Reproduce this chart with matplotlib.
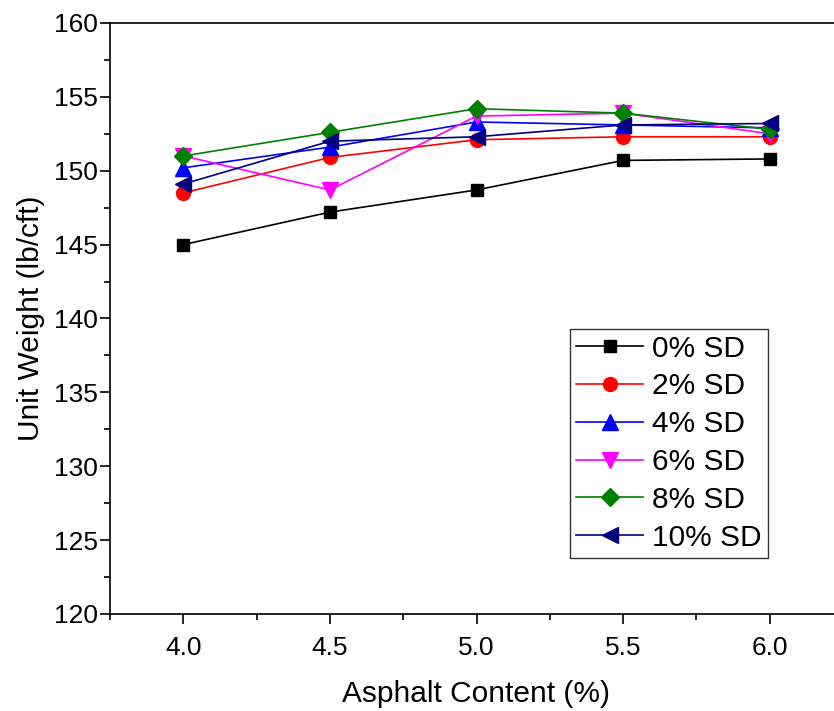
import matplotlib.pyplot as plt
from matplotlib.ticker import MultipleLocator

plt.rcParams["font.family"] = ["Liberation Sans", "DejaVu Sans"]

# ------------------------------------------------------------
# DATA
# ------------------------------------------------------------
asphalt = [4.0, 4.5, 5.0, 5.5, 6.0]

sd_0 = [145.0, 147.2, 148.7, 150.7, 150.8]
sd_2 = [148.5, 150.9, 152.1, 152.3, 152.3]
sd_4 = [150.2, 151.6, 153.3, 153.1, 152.9]
sd_6 = [151.0, 148.7, 153.7, 153.9, 152.5]
sd_8 = [151.0, 152.6, 154.2, 153.9, 152.8]
sd_10 = [149.1, 152.0, 152.3, 153.1, 153.2]

labels = ["0% SD", "2% SD", "4% SD", "6% SD", "8% SD", "10% SD"]
series = [sd_0, sd_2, sd_4, sd_6, sd_8, sd_10]
colors = ["black", "red", "blue", "magenta", "green", "navy"]
markers = ["s", "o", "^", "v", "D", "<"]
msizes = [9, 10, 11, 11, 9.5, 11]

# ------------------------------------------------------------
# PLOT
# ------------------------------------------------------------
fig = plt.figure(figsize=(8.34, 7.11), dpi=100)
ax = fig.add_axes([110 / 834, 97 / 711, 733 / 834, 591 / 711])

for vals, lab, c, m, ms in zip(series, labels, colors, markers, msizes):
    ax.plot(asphalt, vals, color=c, marker=m, markersize=ms, linewidth=1.2,
            label=lab)

ax.set_xlim(3.75, 6.25)
ax.set_ylim(120, 160)
ax.xaxis.set_major_locator(MultipleLocator(0.5))
ax.xaxis.set_minor_locator(MultipleLocator(0.25))
ax.yaxis.set_major_locator(MultipleLocator(5))
ax.yaxis.set_minor_locator(MultipleLocator(2.5))
ax.xaxis.set_major_formatter(plt.FormatStrFormatter("%.1f"))

ax.tick_params(which="major", direction="out", length=7, width=1.2,
               labelsize=19, top=False, right=False)
ax.tick_params(which="minor", direction="out", length=4.5, width=1.2,
               top=False, right=False)
ax.tick_params(axis="x", which="major", pad=9)
ax.tick_params(axis="y", which="major", pad=2)
for s in ax.spines.values():
    s.set_linewidth(1.2)

ax.set_xlabel("Asphalt Content (%)", fontsize=21.5, labelpad=14)
ax.set_ylabel("Unit Weight (lb/cft)", fontsize=21.5, labelpad=6)

leg = ax.legend(loc="upper left", bbox_to_anchor=(0.628, 0.483),
                borderaxespad=0, fontsize=21.5, frameon=True, fancybox=False,
                edgecolor="black", handlelength=2.25, handletextpad=0.3,
                labelspacing=0.33, borderpad=0.2, markerscale=1.0)
leg.get_frame().set_linewidth(1.0)

fig.savefig("out.png", dpi=100)
